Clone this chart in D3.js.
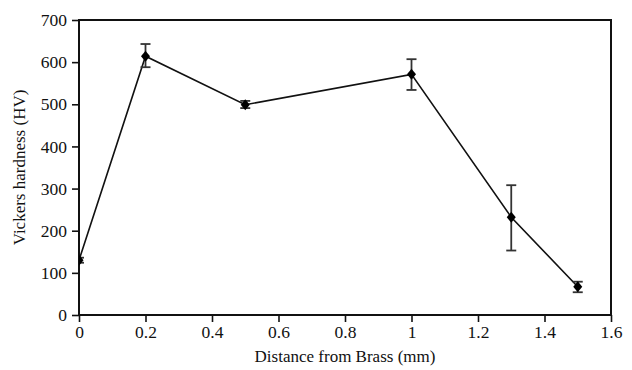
<!DOCTYPE html>
<meta charset="utf-8" />
<style>
  body { margin: 0; background: #fff; }
  text { font-family: "Liberation Serif", "Times New Roman", serif; fill: #111; }
</style>
<svg width="632" height="370"></svg>
<script src="https://d3js.org/d3.v7.min.js"></script>
<script>
  // data
  var distance = [0, 0.2, 0.5, 1.0, 1.3, 1.5];
  var hardness = [130, 614, 499, 571, 232, 67];
  var errLow = [124, 588, 491, 534, 153, 54];
  var errHigh = [136, 643, 508, 607, 308, 79];
  var xTicks = [0, 0.2, 0.4, 0.6, 0.8, 1, 1.2, 1.4, 1.6];
  var yTicks = [0, 100, 200, 300, 400, 500, 600, 700];

  var svg = d3.select("svg");
  // plot box edges (note: "top" is reserved on window)
  var plotL = 79, plotR = 611, plotT = 20, plotB = 315;

  var x = d3.scaleLinear().domain([0, 1.6]).range([plotL, plotR]);
  var y = d3.scaleLinear().domain([0, 700]).range([plotB, plotT]);

  var points = distance.map(function(d, i) {
    return { x: d, v: hardness[i], lo: errLow[i], hi: errHigh[i] };
  });

  svg.append("defs").append("clipPath").attr("id", "plot")
    .append("rect")
    .attr("x", plotL).attr("y", plotT)
    .attr("width", plotR - plotL).attr("height", plotB - plotT);

  // axes
  var xAxis = svg.append("g")
    .attr("transform", "translate(0," + plotB + ")")
    .call(d3.axisBottom(x).tickValues(xTicks).tickSize(7).tickPadding(4)
      .tickFormat(function(d) { return d3.format("~g")(d); }));
  var yAxis = svg.append("g")
    .attr("transform", "translate(" + plotL + ",0)")
    .call(d3.axisLeft(y).tickValues(yTicks).tickSize(7).tickPadding(5));

  [xAxis, yAxis].forEach(function(a) {
    a.select(".domain").remove();
    a.selectAll("line").attr("stroke", "#111").attr("stroke-width", 1.6);
    a.selectAll("text").style("font-size", "17.5px").attr("fill", "#111");
  });

  // frame
  svg.append("rect")
    .attr("x", plotL).attr("y", plotT)
    .attr("width", plotR - plotL).attr("height", plotB - plotT)
    .attr("fill", "none")
    .attr("stroke", "#111")
    .attr("stroke-width", 2);

  var plot = svg.append("g").attr("clip-path", "url(#plot)");

  // line
  plot.append("path")
    .datum(points)
    .attr("fill", "none")
    .attr("stroke", "#111")
    .attr("stroke-width", 1.6)
    .attr("d", d3.line().x(d => x(d.x)).y(d => y(d.v)));

  // error bars
  var eb = plot.selectAll(".eb").data(points).enter().append("g")
    .attr("stroke", "#333").attr("stroke-width", 1.8);
  eb.append("line")
    .attr("x1", d => x(d.x)).attr("x2", d => x(d.x))
    .attr("y1", d => y(d.lo)).attr("y2", d => y(d.hi));
  eb.append("line")
    .attr("x1", d => x(d.x) - 5).attr("x2", d => x(d.x) + 5)
    .attr("y1", d => y(d.lo)).attr("y2", d => y(d.lo));
  eb.append("line")
    .attr("x1", d => x(d.x) - 5).attr("x2", d => x(d.x) + 5)
    .attr("y1", d => y(d.hi)).attr("y2", d => y(d.hi));

  // diamond markers
  plot.selectAll(".mk").data(points).enter().append("path")
    .attr("transform", d => "translate(" + x(d.x) + "," + y(d.v) + ")")
    .attr("d", "M0,-5.5L4.5,0L0,5.5L-4.5,0Z")
    .attr("fill", "#000");

  // axis titles
  svg.append("text")
    .attr("x", (plotL + plotR) / 2)
    .attr("y", 362)
    .attr("text-anchor", "middle")
    .style("font-size", "17px")
    .text("Distance from Brass (mm)");

  svg.append("text")
    .attr("transform", "translate(25," + (plotT + plotB) / 2 + ") rotate(-90)")
    .attr("text-anchor", "middle")
    .style("font-size", "17px")
    .text("Vickers hardness (HV)");
</script>
